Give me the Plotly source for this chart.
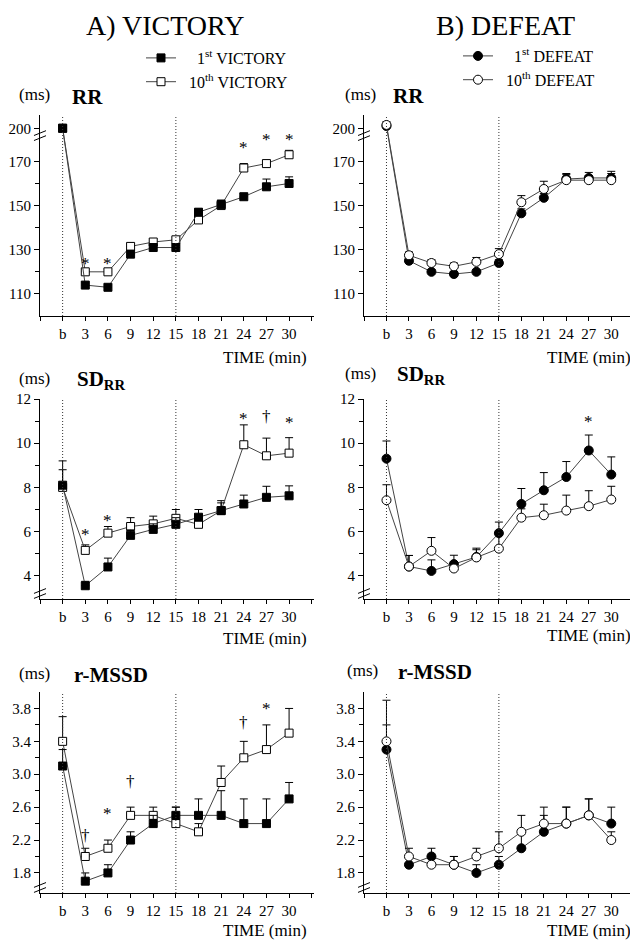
import plotly.graph_objects as go

# time points (b = baseline, then minutes)
times = ['b', '3', '6', '9', '12', '15', '18', '21', '24', '27', '30']

# A) VICTORY
rr_vic_1 = [200, 114, 113, 128, 131, 131, 147, 150.5, 154, 158.5, 160]
rr_vic_1_err = [1, 1, 1, 1.5, 1, 1, 1.5, 2, 1.5, 3.5, 3]
rr_vic_10 = [200, 120, 120, 131.5, 133.5, 134.5, 143.5, 150, 167, 169, 173]
rr_vic_10_err = [1, 1, 1, 1.5, 1, 1, 1, 2, 2, 1.5, 2]

sd_vic_1 = [8.1, 3.55, 4.4, 5.83, 6.1, 6.33, 6.65, 6.95, 7.25, 7.55, 7.62]
sd_vic_1_err = [0.7, 0.2, 0.4, 0.25, 0.25, 0.3, 0.35, 0.35, 0.4, 0.5, 0.45]
sd_vic_10 = [8.0, 5.15, 5.93, 6.23, 6.35, 6.6, 6.33, 6.95, 9.93, 9.43, 9.55]
sd_vic_10_err = [1.2, 0.25, 0.3, 0.4, 0.35, 0.4, 0.35, 0.45, 0.9, 0.8, 0.7]

ms_vic_1 = [3.1, 1.7, 1.8, 2.2, 2.4, 2.5, 2.5, 2.5, 2.4, 2.4, 2.7]
ms_vic_1_err = [0.2, 0.1, 0.1, 0.1, 0.1, 0.1, 0.2, 0.3, 0.3, 0.3, 0.2]
ms_vic_10 = [3.4, 2.0, 2.1, 2.5, 2.5, 2.4, 2.3, 2.9, 3.2, 3.3, 3.5]
ms_vic_10_err = [0.3, 0.1, 0.1, 0.1, 0.1, 0.2, 0.1, 0.2, 0.2, 0.3, 0.3]

# B) DEFEAT
rr_def_1 = [201, 125, 120, 119, 120, 124, 146.5, 153.5, 162, 162.5, 162.5]
rr_def_1_err = [1, 1, 1, 1, 1, 1.5, 2, 2, 2.5, 2.5, 3]
rr_def_10 = [201.5, 127.5, 124, 122.5, 124.5, 128, 151.5, 157.5, 161.5, 161.5, 161.5]
rr_def_10_err = [1.5, 1.5, 1.5, 1.5, 2, 2.5, 3, 3.5, 2.5, 2, 3]

sd_def_1 = [9.3, 4.42, 4.22, 4.53, 4.85, 5.93, 7.25, 7.87, 8.47, 9.67, 8.58]
sd_def_1_err = [0.8, 0.5, 0.5, 0.4, 0.4, 0.5, 0.7, 0.8, 0.7, 0.7, 0.8]
sd_def_10 = [7.42, 4.42, 5.13, 4.33, 4.83, 5.23, 6.63, 6.74, 6.95, 7.15, 7.45]
sd_def_10_err = [0.7, 0.5, 0.6, 0.3, 0.35, 0.7, 0.4, 0.5, 0.7, 0.7, 0.6]

ms_def_1 = [3.3, 1.9, 2.0, 1.9, 1.8, 1.9, 2.1, 2.3, 2.4, 2.5, 2.4]
ms_def_1_err = [0.3, 0.1, 0.1, 0.1, 0.1, 0.1, 0.2, 0.2, 0.2, 0.2, 0.2]
ms_def_10 = [3.4, 2.0, 1.9, 1.9, 2.0, 2.1, 2.3, 2.4, 2.4, 2.5, 2.2]
ms_def_10_err = [0.5, 0.1, 0.1, 0.1, 0.1, 0.2, 0.2, 0.2, 0.2, 0.2, 0.1]

# significance marks: (time, symbol, level)
sig_rr_vic = [('3', '*', 125.8), ('6', '*', 125.8), ('24', '*', 178.2), ('27', '*', 181.5), ('30', '*', 181.5)]
sig_sd_vic = [('3', '*', 6.07), ('6', '*', 6.7), ('24', '*', 11.3), ('27', '†', 11.2), ('30', '*', 11.1)]
sig_ms_vic = [('3', '†', 2.26), ('6', '*', 2.57), ('9', '†', 2.91), ('24', '†', 3.63), ('27', '*', 3.85), ('30', '*', 4.03)]
sig_sd_def = [('27', '*', 11.15)]

# the page body has an 8px margin, so the figure is drawn 8px in from the corner
OFF = 8
W, H = 638 - OFF, 943 - OFF
FONT = 'Liberation Serif'
xpos = list(range(len(times)))
NB = '\u00a0'


def px(x):
    return (x - OFF) / W


def py(y):
    return 1 - (y - OFF) / H


def rr_axis(v):
    # broken axis: baseline values around 200 are pulled down under the break
    return v - 15 if v > 185 else v


fig = go.Figure()

col_x = [(px(40), px(314)), (px(364), px(636))]
row_y = [(py(316), py(115)), (py(599), py(399)), (py(893), py(692))]

panels = [
    # n, col, row, yrange, major ticks, minor ticks
    (1, 0, 0, [100, 191], [110, 130, 150, 170, 200], [120, 140, 160]),
    (2, 1, 0, [100, 191], [110, 130, 150, 170, 200], [120, 140, 160]),
    (3, 0, 1, [2.95, 12], [4, 6, 8, 10, 12], [5, 7, 9, 11]),
    (4, 1, 1, [2.95, 12], [4, 6, 8, 10, 12], [5, 7, 9, 11]),
    (5, 0, 2, [1.556, 4.0], [1.8, 2.2, 2.6, 3.0, 3.4, 3.8], [2.0, 2.4, 2.8, 3.2, 3.6]),
    (6, 1, 2, [1.556, 4.0], [1.8, 2.2, 2.6, 3.0, 3.4, 3.8], [2.0, 2.4, 2.8, 3.2, 3.6]),
]

for n, c, r, yr, major, minor in panels:
    sx = '' if n == 1 else str(n)
    rr = r == 0
    tv = [rr_axis(v) for v in major] if rr else major
    tt = [('%.1f' % v) if r == 2 else str(v) for v in major]
    fig.layout['xaxis' + sx] = dict(
        domain=col_x[c], anchor='y' + sx, range=[-1, 11.1], automargin=False,
        tickmode='array', tickvals=xpos, ticktext=times,
        # unlabelled ticks at both ends of the time axis
        minor=dict(tickmode='array', tickvals=[-1, len(times)], ticks='outside', ticklen=4, tickcolor='black'),
        showline=True, linecolor='black', linewidth=1,
        ticks='outside', ticklen=4, tickcolor='black', ticklabelstandoff=0,
        showgrid=False, zeroline=False,
        tickfont=dict(family=FONT, size=15, color='black'),
    )
    fig.layout['yaxis' + sx] = dict(
        domain=row_y[r], anchor='x' + sx, range=yr, automargin=False,
        tickmode='array', tickvals=tv, ticktext=tt,
        minor=dict(tickmode='array', tickvals=minor, ticks='outside', ticklen=4, tickcolor='black'),
        showline=True, linecolor='black', linewidth=1,
        ticks='outside', ticklen=5, tickcolor='black',
        showgrid=False, zeroline=False,
        tickfont=dict(family=FONT, size=15, color='black'),
    )
    # dotted lines at baseline and at 15 min
    for t in ['b', '15']:
        fig.add_shape(type='line', xref='x' + sx, yref='y%s domain' % sx,
                      x0=times.index(t), x1=times.index(t), y0=0, y1=1,
                      line=dict(color='#333333', width=1, dash='1px,2px'))
    # axis break marks
    brk = [0.885, 0.91] if rr else [0.015, 0.04]
    for b in brk:
        fig.add_shape(type='line', xref='x%s domain' % sx, yref='y%s domain' % sx,
                      x0=-0.022, x1=0.022, y0=b - 0.012, y1=b + 0.012,
                      line=dict(color='black', width=1))


def add_series(n, vals, err, symbol, fill, name, legend, rank, is_rr):
    sx = '' if n == 1 else str(n)
    y = [rr_axis(v) for v in vals] if is_rr else vals
    fig.add_trace(go.Scatter(
        x=xpos, y=y, mode='lines+markers', name=name,
        xaxis='x' + sx, yaxis='y' + sx,
        line=dict(color='#444444', width=1),
        marker=dict(symbol=symbol, size=8 if symbol == 'square' else 9,
                    color=fill, line=dict(color='black', width=1)),
        error_y=dict(type='data', symmetric=False, array=err, arrayminus=[0] * len(err),
                     color='black', thickness=1, width=4),
        cliponaxis=False, legend=legend, legendrank=rank, showlegend=(n in (1, 2)),
    ))


# victory: 10th drawn below 1st
add_series(1, rr_vic_10, rr_vic_10_err, 'square', 'white', NB * 2 + '10<sup>th</sup> VICTORY', 'legend', 2, True)
add_series(1, rr_vic_1, rr_vic_1_err, 'square', 'black', NB * 4 + '1<sup>st</sup> VICTORY', 'legend', 1, True)
add_series(3, sd_vic_10, sd_vic_10_err, 'square', 'white', '10th', 'legend', 2, False)
add_series(3, sd_vic_1, sd_vic_1_err, 'square', 'black', '1st', 'legend', 1, False)
add_series(5, ms_vic_10, ms_vic_10_err, 'square', 'white', '10th', 'legend', 2, False)
add_series(5, ms_vic_1, ms_vic_1_err, 'square', 'black', '1st', 'legend', 1, False)

# defeat: 1st drawn below 10th
add_series(2, rr_def_1, rr_def_1_err, 'circle', 'black', NB * 4 + '1<sup>st</sup> DEFEAT', 'legend2', 1, True)
add_series(2, rr_def_10, rr_def_10_err, 'circle', 'white', NB * 2 + '10<sup>th</sup> DEFEAT', 'legend2', 2, True)
add_series(4, sd_def_1, sd_def_1_err, 'circle', 'black', '1st', 'legend2', 1, False)
add_series(4, sd_def_10, sd_def_10_err, 'circle', 'white', '10th', 'legend2', 2, False)
add_series(6, ms_def_1, ms_def_1_err, 'circle', 'black', '1st', 'legend2', 1, False)
add_series(6, ms_def_10, ms_def_10_err, 'circle', 'white', '10th', 'legend2', 2, False)

ann = []
for n, marks in [(1, sig_rr_vic), (3, sig_sd_vic), (5, sig_ms_vic), (4, sig_sd_def)]:
    sx = '' if n == 1 else str(n)
    for t, s, lvl in marks:
        ann.append(dict(x=times.index(t), y=lvl, xref='x' + sx, yref='y' + sx, text=s,
                        showarrow=False, xanchor='center', yanchor='middle',
                        yshift=-4 if s == '*' else 0,
                        font=dict(family=FONT, size=17, color='black')))


def label(x, y, text, size, anchor='left'):
    ann.append(dict(x=px(x), y=py(y), xref='paper', yref='paper', text=text, showarrow=False,
                    xanchor=anchor, yanchor='middle',
                    font=dict(family=FONT, size=size, color='black')))


# titles and panel labels
label(165, 25, 'A) VICTORY', 28, 'center')
label(505, 25, 'B) DEFEAT', 28, 'center')

panel_labels = [
    (17, 95, 70, 'RR'), (343, 94, 391, 'RR'),
    (17, 378, 75, 'SD<sub>RR</sub>'), (343, 373, 395, 'SD<sub>RR</sub>'),
    (17, 673, 72, 'r-MSSD'), (345, 670, 396, 'r-MSSD'),
]
for xm, yl, xt, txt in panel_labels:
    label(xm, yl, '(ms)', 17)
    label(xt, yl + 2, '<b>%s</b>' % txt, 21)

for xr, yt in [(309, 358), (633, 358), (309, 638), (633, 635), (309, 930), (633, 930)]:
    label(xr, yt, 'TIME (min)', 17, 'right')

leg_style = dict(font=dict(family=FONT, size=16, color='black'), bgcolor='rgba(0,0,0,0)',
                 traceorder='normal', itemwidth=30, tracegroupgap=0, yanchor='top', xanchor='left')
fig.update_layout(
    template='none',
    width=W, height=H,
    margin=dict(l=0, r=0, t=0, b=0, autoexpand=False),
    paper_bgcolor='white', plot_bgcolor='white',
    annotations=ann,
    legend=dict(x=px(141), y=py(41), **leg_style),
    legend2=dict(x=px(458), y=py(39), **leg_style),
)

fig.write_html("out.html")
